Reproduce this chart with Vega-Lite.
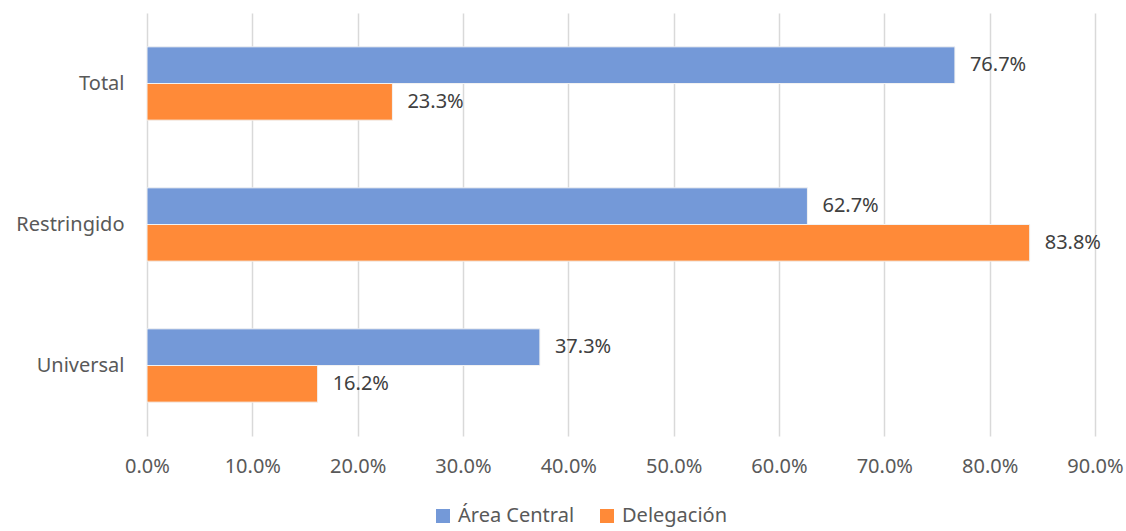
{
  "$schema": "https://vega.github.io/schema/vega-lite/v6.json",
  "width": 948,
  "height": 423,
  "autosize": {"type": "none"},
  "padding": {"left": 147, "top": 13, "right": 31, "bottom": 95},
  "background": "white",
  "config": {
    "view": {"stroke": null},
    "font": "Noto Sans"
  },
  "data": {
    "values": [
      {"cat": "Total", "serie": "Área Central", "v": 0.767},
      {"cat": "Total", "serie": "Delegación", "v": 0.233},
      {"cat": "Restringido", "serie": "Área Central", "v": 0.627},
      {"cat": "Restringido", "serie": "Delegación", "v": 0.838},
      {"cat": "Universal", "serie": "Área Central", "v": 0.373},
      {"cat": "Universal", "serie": "Delegación", "v": 0.162}
    ]
  },
  "encoding": {
    "y": {
      "field": "cat", "type": "nominal",
      "sort": ["Total", "Restringido", "Universal"],
      "scale": {"paddingInner": 0.48, "paddingOuter": 0.24},
      "axis": {"title": null, "ticks": false, "domain": false, "labelFontSize": 20, "labelColor": "#595959", "labelPadding": 23, "labelFont": "Noto Sans"}
    },
    "yOffset": {
      "field": "serie", "type": "nominal",
      "sort": ["Área Central", "Delegación"],
      "scale": {"paddingInner": 0, "paddingOuter": 0}
    },
    "x": {
      "field": "v", "type": "quantitative",
      "scale": {"domain": [0, 0.9]},
      "axis": {"title": null, "format": ".1%", "values": [0,0.1,0.2,0.3,0.4,0.5,0.6,0.7,0.8,0.9], "labelFlush": false, "labelOverlap": false, "ticks": false, "domain": false, "grid": true, "gridColor": "#d9d9d9", "gridWidth": 1.5, "labelFontSize": 20, "labelColor": "#595959", "labelPadding": 20, "labelFont": "Noto Sans"}
    }
  },
  "layer": [
    {
      "mark": {"type": "bar", "stroke": "#f2f2f2", "strokeWidth": 1},
      "encoding": {
        "color": {
          "field": "serie", "type": "nominal",
          "sort": ["Área Central", "Delegación"],
          "scale": {"domain": ["Área Central", "Delegación"], "range": ["#7499d8", "#ff8a38"]},
          "legend": {"title": null, "orient": "none", "legendX": 286, "legendY": 493, "padding": 0, "direction": "horizontal", "symbolType": "square", "symbolSize": 196, "symbolStrokeWidth": 0, "labelFontSize": 20, "labelColor": "#595959", "columnPadding": 22, "labelOffset": 5, "labelFont": "Noto Sans"}
        }
      }
    },
    {
      "mark": {"type": "text", "align": "left", "baseline": "middle", "dx": 15, "fontSize": 20, "color": "#404040", "font": "Noto Sans"},
      "encoding": {
        "text": {"field": "v", "type": "quantitative", "format": ".1%"}
      }
    }
  ]
}
